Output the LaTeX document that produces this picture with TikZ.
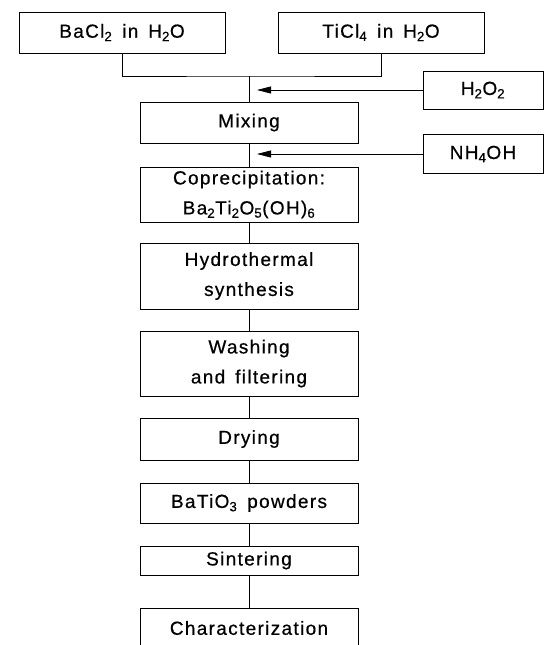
\documentclass[tikz,border=0pt]{standalone}
\usepackage{fontspec}
\setmainfont{Liberation Sans}[LetterSpace=7,WordSpace=1.5,FakeBold=0.6]
\usetikzlibrary{arrows.meta}
\begin{document}
\begin{tikzpicture}[x=1pt,y=-1pt,
  box/.style={draw, line width=1pt, inner sep=0pt, minimum width=218pt, align=center,
    font=\fontsize{19}{30}\selectfont},
  side/.style={box, minimum width=206pt},
  small/.style={box, minimum width=120pt},
  conn/.style={line width=0.8pt},
  arr/.style={line width=0.8pt, -{Triangle[length=14pt,width=7pt]}}]
\useasboundingbox (0,0) rectangle (544,645);
\node[side, minimum height=41pt] (ba) at (122,32.5) {BaCl\textsubscript{2} in H\textsubscript{2}O};
\node[side, minimum height=41pt] (ti) at (381,32.5) {TiCl\textsubscript{4} in H\textsubscript{2}O};
\node[small, minimum height=38pt] (hp) at (483,90) {H\textsubscript{2}O\textsubscript{2}};
\node[small, minimum height=39pt] (nh) at (483,154) {NH\textsubscript{4}OH};
\node[box, minimum height=41pt] (mix) at (249,122.5) {Mixing};
\node[box, minimum height=55pt] (cop) at (249,194.5) {Coprecipitation:\\Ba\textsubscript{2}Ti\textsubscript{2}O\textsubscript{5}(OH)\textsubscript{6}};
\node[box, minimum height=66pt] (hyd) at (249,276) {Hydrothermal\\synthesis};
\node[box, minimum height=65pt] (wash) at (249,363.5) {Washing\\and filtering};
\node[box, minimum height=42pt] (dry) at (249,439) {Drying};
\node[box, minimum height=40pt] (bat) at (249,503) {BaTiO\textsubscript{3} powders};
\node[box, minimum height=29pt] (sin) at (249,560.5) {Sintering};
\node[box, minimum height=40pt] (cha) at (249,628) {Characterization};
\coordinate (j) at (249,76);
\coordinate (a1) at (257,90);
\coordinate (a2) at (257,154);
\draw[conn] (ba.south) |- (j) -| (ti.south);
\draw[conn] (j) -- (mix.north);
\draw[arr] (hp.west) -- (a1);
\draw[conn] (mix) -- (cop);
\draw[arr] (nh.west) -- (a2);
\draw[conn] (cop) -- (hyd);
\draw[conn] (hyd) -- (wash);
\draw[conn] (wash) -- (dry);
\draw[conn] (dry) -- (bat);
\draw[conn] (bat) -- (sin);
\draw[conn] (sin) -- (cha);
\end{tikzpicture}
\end{document}
